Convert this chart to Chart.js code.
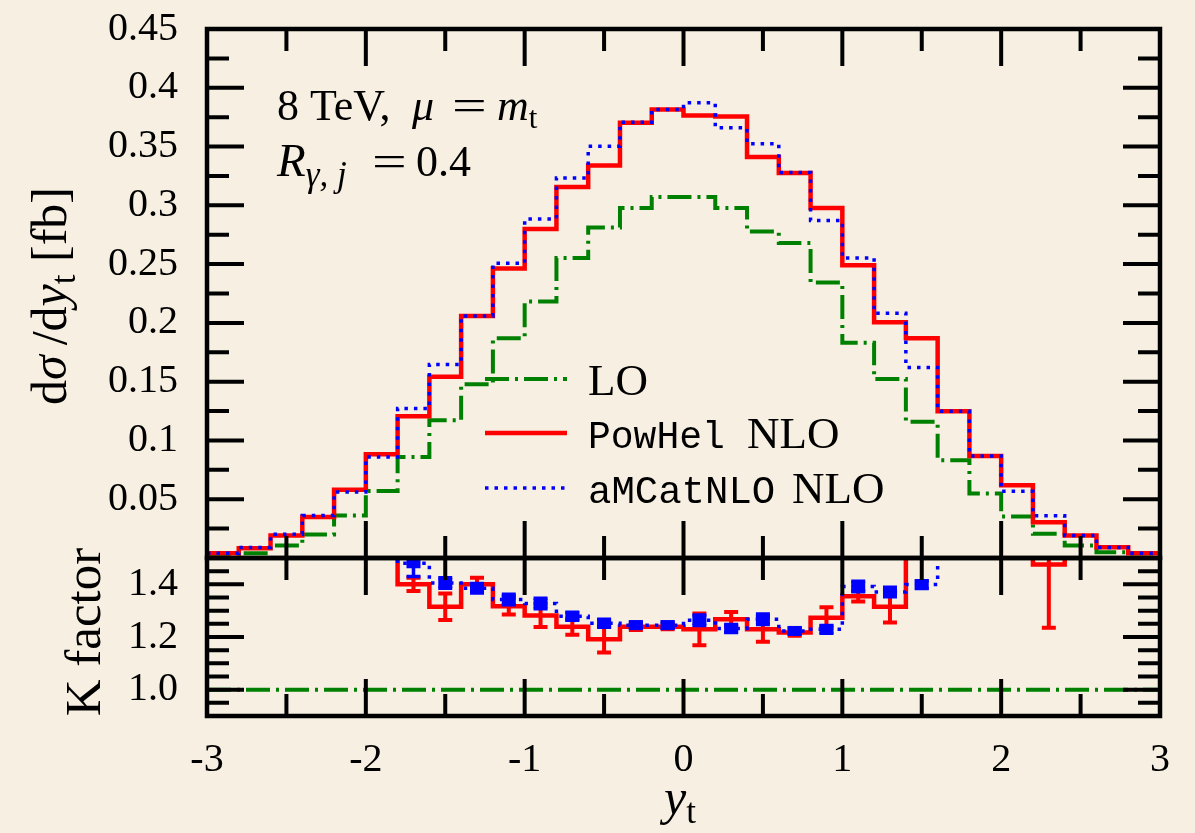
<!DOCTYPE html>
<html lang="en">
<head>
<meta charset="UTF-8">
<title>Top-quark rapidity distribution</title>
<script src="https://cdn.jsdelivr.net/npm/chart.js"></script>
<style>
  body { margin: 0; background: #f7f0e2; }
  #wrap { position: relative; width: 1195px; height: 833px; background: #f7f0e2; }
  #wrap canvas { position: absolute; left: 0; top: 0; }
</style>
</head>
<body>
<div id="wrap">
  <canvas id="kplot" width="1195" height="833"></canvas>
  <canvas id="spectrum" width="1195" height="833"></canvas>
</div>
<script>
// y_t bin edges (width 0.2)
const edges = [-3, -2.8, -2.6, -2.4, -2.2, -2, -1.8, -1.6, -1.4, -1.2, -1, -0.8, -0.6, -0.4, -0.2,
               0, 0.2, 0.4, 0.6, 0.8, 1, 1.2, 1.4, 1.6, 1.8, 2, 2.2, 2.4, 2.6, 2.8, 3];

// dsigma/dy_t [fb], one value per bin
const lo     = [0.0021, 0.0041, 0.0107, 0.0200, 0.0362, 0.0569, 0.0859, 0.1172, 0.1479, 0.1869,
                0.2181, 0.2551, 0.2812, 0.2977, 0.3071, 0.3071, 0.2977, 0.2777, 0.2679, 0.2343,
                0.1831, 0.1522, 0.1158, 0.0832, 0.0548, 0.0354, 0.0206, 0.0107, 0.0049, 0.0038];
const powhel = [0.0041, 0.0084, 0.0192, 0.0348, 0.0581, 0.0882, 0.1206, 0.1541, 0.2059, 0.2462,
                0.2798, 0.3156, 0.3338, 0.3702, 0.3815, 0.3764, 0.3755, 0.3412, 0.3275, 0.2977,
                0.2491, 0.2005, 0.1869, 0.1249, 0.0868, 0.0618, 0.0305, 0.0192, 0.0092, 0.0041];
const amcnlo = [0.0041, 0.0090, 0.0203, 0.0362, 0.0561, 0.0859, 0.1271, 0.1647, 0.2059, 0.2508,
                0.2883, 0.3233, 0.3502, 0.3707, 0.3815, 0.3872, 0.3659, 0.3523, 0.3280, 0.2871,
                0.2551, 0.2082, 0.1621, 0.1249, 0.0868, 0.0567, 0.0360, 0.0192, 0.0090, 0.0041];

// K factors (NLO/LO) with their uncertainties
const kPowhel    = [1.95, 1.98, 1.82, 1.71, 1.62, 1.56, 1.40, 1.315, 1.40, 1.317,
                    1.282, 1.239, 1.191, 1.239, 1.239, 1.229, 1.267, 1.229, 1.217, 1.273,
                    1.355, 1.315, 1.62, 1.56, 1.60, 1.74, 1.475, 1.80, 1.88, 1.90];
const kPowhelErr = [0.30, 0.25, 0.20, 0.12, 0.08, 0.04, 0.025, 0.05, 0.025, 0.032,
                    0.044, 0.03, 0.05, 0.012, 0.01, 0.06, 0.028, 0.047, 0.012, 0.04,
                    0.02, 0.06, 0.08, 0.05, 0.07, 0.12, 0.24, 0.20, 0.25, 0.30];
const kAmc       = [1.95, 2.10, 1.90, 1.81, 1.55, 1.53, 1.48, 1.405, 1.385, 1.342,
                    1.327, 1.279, 1.252, 1.245, 1.245, 1.264, 1.232, 1.267, 1.223, 1.229,
                    1.392, 1.371, 1.399, 1.53, 1.58, 1.60, 1.72, 1.75, 1.85, 1.90];
const kAmcErr    = [0.20, 0.20, 0.15, 0.10, 0.03, 0.02, 0.05, 0.02, 0.018, 0.02,
                    0.02, 0.015, 0.015, 0.012, 0.012, 0.02, 0.015, 0.02, 0.012, 0.015,
                    0.02, 0.018, 0.015, 0.02, 0.05, 0.06, 0.10, 0.15, 0.20, 0.25];
const kLo = 1.0;

// ticks
const xMajor = [-3, -2, -1, 0, 1, 2, 3];
const xMinor = [-2.5, -1.5, -0.5, 0.5, 1.5, 2.5];
const sigmaMajor = [0.05, 0.1, 0.15, 0.2, 0.25, 0.3, 0.35, 0.4, 0.45];
const sigmaMinor = [0.025, 0.075, 0.125, 0.175, 0.225, 0.275, 0.325, 0.375, 0.425];
const kMajor = [1.0, 1.2, 1.4];
const kMinor = [0.95, 1.05, 1.1, 1.15, 1.25, 1.3, 1.35, 1.45];

const serif = '"Liberation Serif", "Times New Roman", serif';
const mono = '"Liberation Mono", "Courier New", monospace';
const up = s => `${s}px ${serif}`;
const it = s => `italic ${s}px ${serif}`;

const RED = '#ff0000', BLUE = '#0000ff', GREEN = '#008000';
const DOTS = [3.5, 6], DASHDOT = [24, 6, 3, 6];

function stepPoints(vals) {
  const pts = vals.map((v, i) => ({ x: edges[i], y: v }));
  pts.push({ x: edges[edges.length - 1], y: vals[vals.length - 1] });
  return pts;
}

function histLine(pts, color, width, dash) {
  return { data: pts, stepped: 'before', borderColor: color, borderWidth: width,
           borderDash: dash, pointRadius: 0, fill: false };
}

// keep the plot box exactly where the layout padding puts it
function noScalePadding(s) {
  s.paddingTop = 0; s.paddingBottom = 0;
  s.paddingLeft = 0; s.paddingRight = 0;
}

// black box with inward ticks on all four sides
function framePlugin(yMajor, yMinor) {
  return {
    id: 'frame',
    afterDatasetsDraw(chart) {
      const { ctx, chartArea: a, scales: { x, y } } = chart;
      ctx.save();
      ctx.strokeStyle = '#000';
      ctx.lineWidth = 4;
      ctx.beginPath();
      const xt = (list, len) => list.forEach(v => {
        const p = x.getPixelForValue(v);
        ctx.moveTo(p, a.bottom); ctx.lineTo(p, a.bottom - len);
        ctx.moveTo(p, a.top); ctx.lineTo(p, a.top + len);
      });
      const yt = (list, len) => list.forEach(v => {
        const p = y.getPixelForValue(v);
        ctx.moveTo(a.left, p); ctx.lineTo(a.left + len, p);
        ctx.moveTo(a.right, p); ctx.lineTo(a.right - len, p);
      });
      xt(xMajor, 37); xt(xMinor, 22);
      yt(yMajor, 37); yt(yMinor, 22);
      ctx.stroke();
      ctx.lineWidth = 4.5;
      ctx.strokeRect(a.left, a.top, a.right - a.left, a.bottom - a.top);
      ctx.restore();
    }
  };
}

// runs: [text, font, baseline shift, fixed x, horizontal stretch]
function drawRuns(ctx, runs, x0, y0) {
  let x = x0;
  runs.forEach(r => {
    ctx.font = r[1];
    if (r[3] !== undefined) x = r[3];
    const sx = r[4] || 1;
    ctx.save();
    ctx.translate(x, y0 + (r[2] || 0));
    ctx.scale(sx, 1);
    ctx.fillText(r[0], 0, 0);
    ctx.restore();
    x += ctx.measureText(r[0]).width * sx;
  });
}

function rotatedRuns(ctx, runs, baseX, centerY) {
  let w = 0;
  runs.forEach(r => { ctx.font = r[1]; w += ctx.measureText(r[0]).width; });
  ctx.save();
  ctx.translate(baseX, centerY);
  ctx.rotate(-Math.PI / 2);
  drawRuns(ctx, runs, -w / 2, 0);
  ctx.restore();
}

function sample(ctx, y, color, width, dash) {
  ctx.save();
  ctx.strokeStyle = color;
  ctx.lineWidth = width;
  ctx.setLineDash(dash);
  ctx.beginPath();
  ctx.moveTo(485, y); ctx.lineTo(567, y);
  ctx.stroke();
  ctx.restore();
}

const spectrumText = {
  id: 'spectrumText',
  afterDraw(chart) {
    const ctx = chart.ctx;
    ctx.save();
    ctx.fillStyle = '#000';
    ctx.textAlign = 'left';
    ctx.textBaseline = 'alphabetic';

    drawRuns(ctx, [['8 TeV,', up(44), 0, 277], ['\u03bc', it(44), 0, 412], ['=', up(44), 0, 452, 1.4],
                   ['m', it(44), 0, 497], ['t', up(31), 8]], 277, 120);
    drawRuns(ctx, [['R', it(47), 0, 277], ['\u03b3, j', it(35), 10], ['=', up(44), 0, 372, 1.4],
                   ['0.4', up(44), 0, 416]], 277, 176);

    sample(ctx, 379, GREEN, 4, DASHDOT);
    sample(ctx, 433, RED, 4.5, []);
    sample(ctx, 488, BLUE, 3.5, DOTS);
    drawRuns(ctx, [['LO', up(45)]], 588, 395);
    drawRuns(ctx, [['PowHel', `38px ${mono}`], ['NLO', up(45), 0, 747]], 588, 448);
    drawRuns(ctx, [['aMCatNLO', `39px ${mono}`], ['NLO', up(45), 0, 792]], 588, 503);

    rotatedRuns(ctx, [['d', up(50)], ['\u03c3', it(50)], ['\u2009/', up(50)], ['d', up(50)],
                      ['y', it(50)], ['t', up(35), 9], [' [fb]', up(50)]], 66, 296);
    ctx.restore();
  }
};

const kText = {
  id: 'kText',
  afterDraw(chart) {
    const ctx = chart.ctx;
    ctx.save();
    ctx.fillStyle = '#000';
    ctx.textAlign = 'left';
    ctx.textBaseline = 'alphabetic';
    rotatedRuns(ctx, [['K factor', up(51)]], 100, 632);
    drawRuns(ctx, [['y', it(50)], ['t', up(35), 9]], 664, 814);
    ctx.restore();
  }
};

// error bars of the K factors at bin centres
function drawErrors(ctx, x, y, vals, errs, color, width, marker) {
  ctx.strokeStyle = color;
  ctx.fillStyle = color;
  ctx.lineWidth = width;
  vals.forEach((v, i) => {
    const cx = x.getPixelForValue((edges[i] + edges[i + 1]) / 2);
    const hi = y.getPixelForValue(v + errs[i]);
    const lo = y.getPixelForValue(v - errs[i]);
    ctx.beginPath();
    ctx.moveTo(cx, hi); ctx.lineTo(cx, lo);
    ctx.moveTo(cx - 7, hi); ctx.lineTo(cx + 7, hi);
    ctx.moveTo(cx - 7, lo); ctx.lineTo(cx + 7, lo);
    ctx.stroke();
    if (marker) {
      const cy = y.getPixelForValue(v);
      ctx.fillRect(cx - 7, cy - 5, 14, 10);
    }
  });
}

const errorBars = {
  id: 'errorBars',
  afterDatasetsDraw(chart) {
    const { ctx, chartArea: a, scales: { x, y } } = chart;
    ctx.save();
    ctx.beginPath();
    ctx.rect(a.left, a.top, a.right - a.left, a.bottom - a.top);
    ctx.clip();
    drawErrors(ctx, x, y, kPowhel, kPowhelErr, RED, 4, false);
    drawErrors(ctx, x, y, kAmc, kAmcErr, BLUE, 3.5, true);
    ctx.restore();
  }
};

const tickFont = { family: serif, size: 40 };
const common = {
  responsive: false,
  animation: false,
  events: [],
  plugins: { legend: { display: false }, tooltip: { enabled: false } }
};

new Chart(document.getElementById('spectrum'), {
  type: 'line',
  data: {
    datasets: [
      histLine(stepPoints(amcnlo), BLUE, 3.5, DOTS),
      histLine(stepPoints(powhel), RED, 4.5, []),
      histLine(stepPoints(lo), GREEN, 4, DASHDOT)
    ]
  },
  options: {
    ...common,
    layout: { padding: { top: 29, right: 35, bottom: 275, left: 0 } },
    scales: {
      x: { type: 'linear', min: -3, max: 3, display: false, afterFit: noScalePadding },
      y: {
        min: 0, max: 0.45,
        afterFit: s => { s.width = 207; noScalePadding(s); },
        afterBuildTicks: s => { s.ticks = sigmaMajor.map(v => ({ value: v })); },
        grid: { display: false, drawTicks: false },
        border: { display: false },
        ticks: { padding: 29, color: '#000', font: tickFont, callback: v => String(v) }
      }
    }
  },
  plugins: [framePlugin(sigmaMajor, sigmaMinor), spectrumText]
});

new Chart(document.getElementById('kplot'), {
  type: 'line',
  data: {
    datasets: [
      histLine(stepPoints(kAmc), BLUE, 3.5, DOTS),
      histLine(stepPoints(kPowhel), RED, 4.5, []),
      histLine([{ x: edges[0], y: kLo }, { x: edges[edges.length - 1], y: kLo }], GREEN, 4, DASHDOT)
    ]
  },
  options: {
    ...common,
    layout: { padding: { top: 558, right: 35, bottom: 0, left: 0 } },
    scales: {
      x: {
        type: 'linear', min: -3, max: 3,
        afterFit: s => { s.height = 117; noScalePadding(s); },
        afterBuildTicks: s => { s.ticks = xMajor.map(v => ({ value: v })); },
        grid: { display: false, drawTicks: false },
        border: { display: false },
        ticks: { padding: 20, maxRotation: 0, autoSkip: false, color: '#000', font: tickFont,
                 callback: v => String(v) }
      },
      y: {
        min: 0.9, max: 1.5,
        afterFit: s => { s.width = 207; noScalePadding(s); },
        afterBuildTicks: s => { s.ticks = kMajor.map(v => ({ value: v })); },
        grid: { display: false, drawTicks: false },
        border: { display: false },
        ticks: { padding: 29, color: '#000', font: tickFont, callback: v => v.toFixed(1) }
      }
    }
  },
  plugins: [errorBars, framePlugin(kMajor, kMinor), kText]
});
</script>
</body>
</html>
